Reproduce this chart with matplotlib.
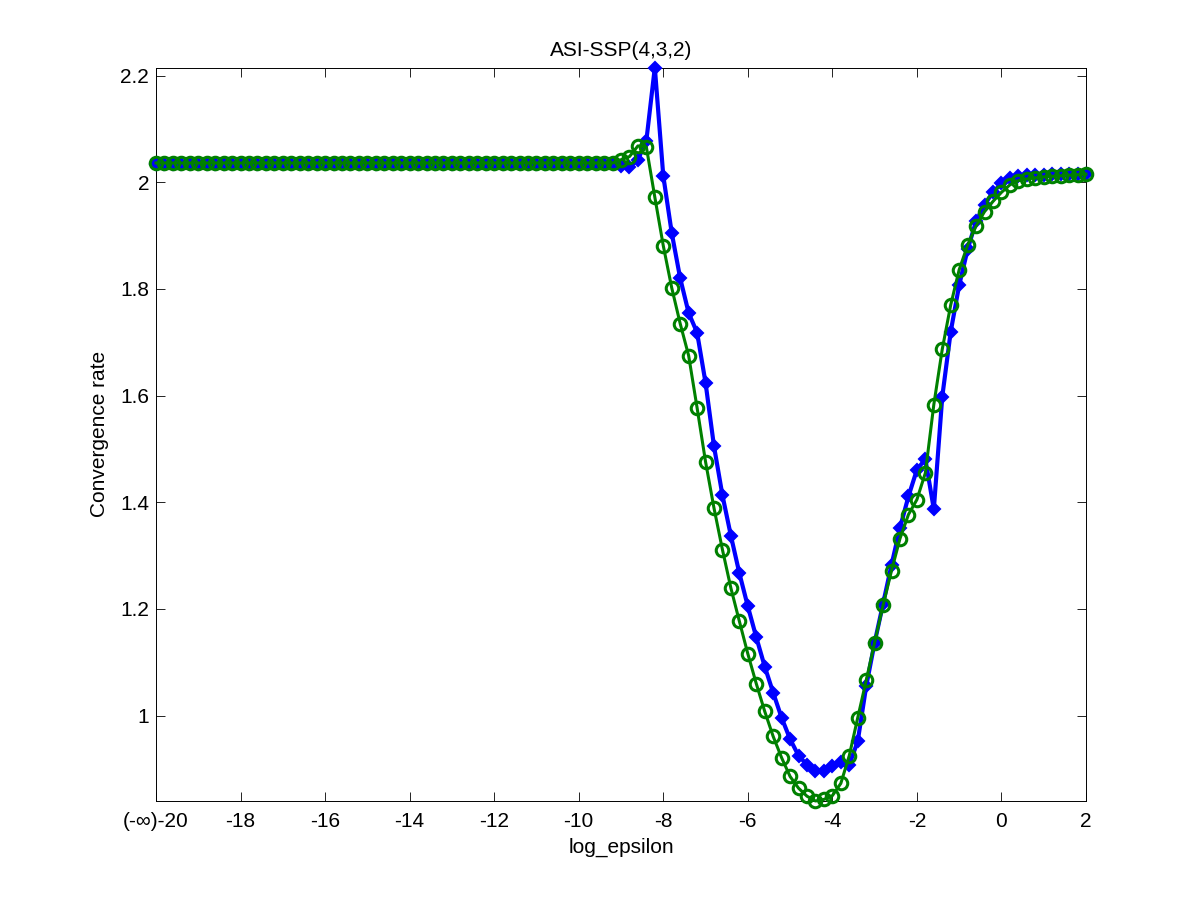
import numpy as np
import matplotlib
matplotlib.use('Agg')
import matplotlib.pyplot as plt

plt.rcParams['font.family'] = ['Liberation Sans', 'DejaVu Sans']

# log_epsilon grid, -20 ... 2 in steps of 0.2 (111 points)
log_eps = np.round(np.linspace(-20, 2, 111), 1)

flat_blue = [2.034, 2.034, 2.034, 2.034, 2.034, 2.034, 2.034, 2.034, 2.034, 2.034,
             2.034, 2.034, 2.034, 2.034, 2.034, 2.034, 2.034, 2.034, 2.034, 2.034,
             2.034, 2.034, 2.034, 2.034, 2.034, 2.034, 2.034, 2.034, 2.034, 2.034,
             2.034, 2.034, 2.034, 2.034, 2.034, 2.034, 2.034, 2.034, 2.034, 2.034,
             2.034, 2.034, 2.034, 2.034, 2.034, 2.034, 2.034, 2.034, 2.034, 2.034,
             2.034, 2.034, 2.034, 2.034]
tail_blue = [2.034, 2.031, 2.028, 2.042, 2.078, 2.215, 2.012, 1.905, 1.820, 1.755,
             1.718, 1.624, 1.505, 1.413, 1.337, 1.267, 1.205, 1.147, 1.092, 1.043,
             0.996, 0.956, 0.925, 0.908, 0.896, 0.897, 0.906, 0.914, 0.908, 0.952,
             1.055, 1.137, 1.210, 1.283, 1.352, 1.411, 1.461, 1.481, 1.387, 1.598,
             1.720, 1.807, 1.874, 1.927, 1.958, 1.981, 1.998, 2.007, 2.012, 2.013,
             2.014, 2.014, 2.015, 2.015, 2.015, 2.016, 2.016]

flat_green = [2.036, 2.036, 2.036, 2.036, 2.036, 2.036, 2.036, 2.036, 2.036, 2.036,
              2.036, 2.036, 2.036, 2.036, 2.036, 2.036, 2.036, 2.036, 2.036, 2.036,
              2.036, 2.036, 2.036, 2.036, 2.036, 2.036, 2.036, 2.036, 2.036, 2.036,
              2.036, 2.036, 2.036, 2.036, 2.036, 2.036, 2.036, 2.036, 2.036, 2.036,
              2.036, 2.036, 2.036, 2.036, 2.036, 2.036, 2.036, 2.036, 2.036, 2.036,
              2.036, 2.036, 2.036, 2.036]
tail_green = [2.036, 2.042, 2.048, 2.068, 2.066, 1.972, 1.881, 1.802, 1.735, 1.675,
              1.577, 1.476, 1.389, 1.311, 1.239, 1.177, 1.116, 1.060, 1.008, 0.961,
              0.921, 0.886, 0.864, 0.849, 0.840, 0.843, 0.850, 0.873, 0.925, 0.996,
              1.066, 1.137, 1.207, 1.272, 1.332, 1.377, 1.405, 1.455, 1.583, 1.687,
              1.770, 1.836, 1.882, 1.918, 1.945, 1.964, 1.981, 1.995, 2.003, 2.006,
              2.008, 2.010, 2.011, 2.012, 2.013, 2.014, 2.015]

rate_blue = np.array(flat_blue + tail_blue)
rate_green = np.array(flat_green + tail_green)

xtick_vals = [-20, -18, -16, -14, -12, -10, -8, -6, -4, -2, 0, 2]
xtick_labels = ['(-\u221e)-20', '-18', '-16', '-14', '-12', '-10', '-8', '-6', '-4', '-2', '0', '2']
ytick_vals = [1, 1.2, 1.4, 1.6, 1.8, 2, 2.2]
ytick_labels = ['1', '1.2', '1.4', '1.6', '1.8', '2', '2.2']

fig = plt.figure(figsize=(12, 9), dpi=100)
ax = fig.add_axes([0.13, 0.11, 0.775, 0.815])

# markers are not clipped at the box edge (peak and end points stick out)
ax.plot(log_eps, rate_blue, color='#0000ff', lw=3.0, marker='D', ms=6,
        mfc='#0000ff', mec='#0000ff', mew=1.5, clip_on=False, zorder=3)
ax.plot(log_eps, rate_green, color='#008000', lw=2.2, marker='o', ms=9,
        mfc='none', mec='#008000', mew=2.2, clip_on=False, zorder=4)

ax.set_xlim(-20, 2)
ax.set_ylim(min(rate_blue.min(), rate_green.min()), max(rate_blue.max(), rate_green.max()))
ax.set_xticks(xtick_vals)
ax.set_xticklabels(xtick_labels)
ax.set_yticks(ytick_vals)
ax.set_yticklabels(ytick_labels)
ax.tick_params(direction='in', length=6.7, width=0.6, top=True, right=True,
               labelsize=15)
ax.tick_params(axis='x', pad=8)
ax.tick_params(axis='y', pad=5)
for s in ax.spines.values():
    s.set_linewidth(0.7)

ax.set_title('ASI-SSP(4,3,2)', fontsize=15, pad=8)
ax.set_xlabel('log_epsilon', fontsize=15, labelpad=5)
ax.set_ylabel('Convergence rate', fontsize=15, labelpad=8)

fig.savefig('out.png', dpi=100)
